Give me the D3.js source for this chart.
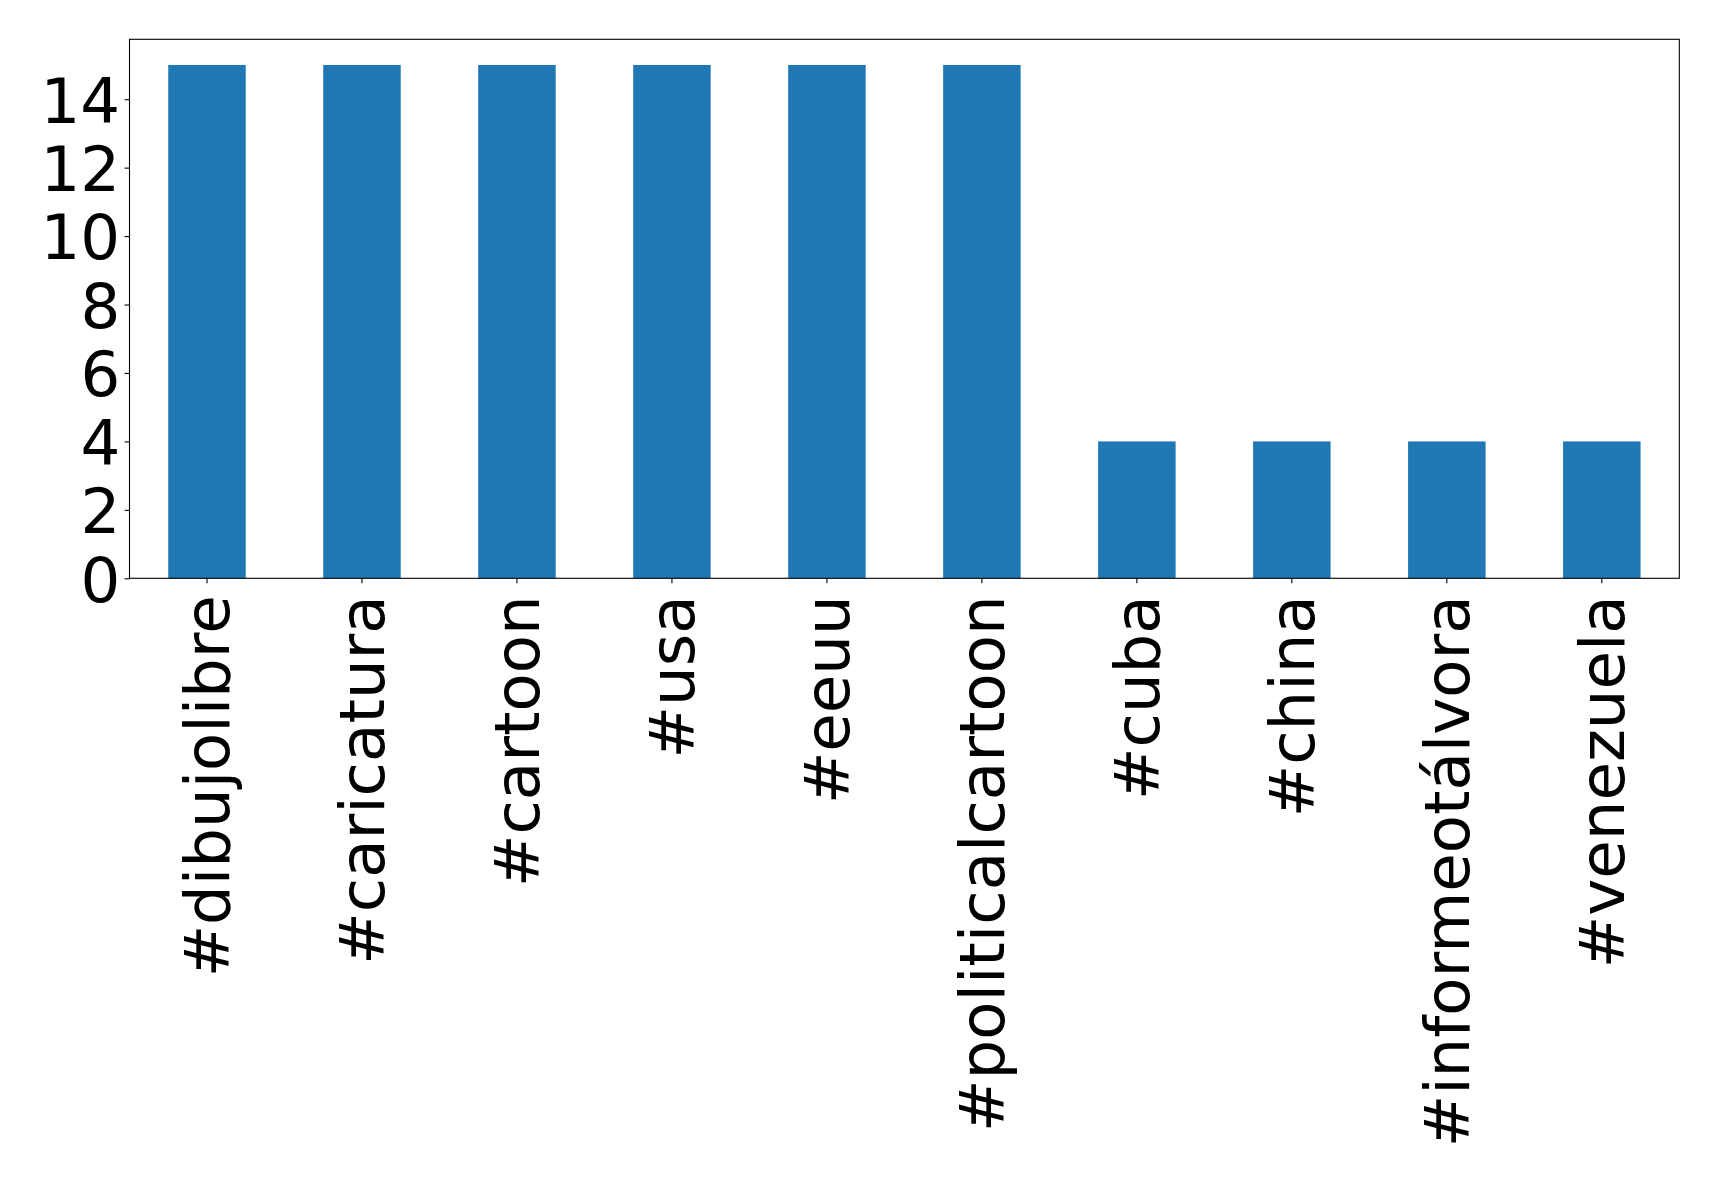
<!DOCTYPE html>
<html>
<head>
<meta charset="utf-8">
<script src="https://cdn.jsdelivr.net/npm/d3@7"></script>
<style>
  html, body { margin: 0; padding: 0; background: #fff; }
  svg { display: block; }
  text { font-family: "DejaVu Sans", sans-serif; fill: #000; }
</style>
</head>
<body>
<svg id="chart" width="1719" height="1179"></svg>
<script>
const categories = ["#dibujolibre", "#caricatura", "#cartoon", "#usa", "#eeuu", "#politicalcartoon", "#cuba", "#china", "#informeotálvora", "#venezuela"];
const counts = [15, 15, 15, 15, 15, 15, 4, 4, 4, 4];
const yTicks = [0, 2, 4, 6, 8, 10, 12, 14];

const plotLeft = 129.5, plotRight = 1679.3, plotTop = 39.3, plotBottom = 578.3;
const fontSize = 62.6;
const tickLen = 4.9, tickPad = 4.9;

const svg = d3.select("#chart");

const x = d3.scaleBand().domain(categories).range([plotLeft, plotRight]).paddingInner(0.5).paddingOuter(0.25);
const y = d3.scaleLinear().domain([0, d3.max(counts) * 1.05]).range([plotBottom, plotTop]);

// bars
svg.append("g").selectAll("rect").data(categories).join("rect")
  .attr("x", d => x(d))
  .attr("width", x.bandwidth())
  .attr("y", (d, i) => y(counts[i]))
  .attr("height", (d, i) => y(0) - y(counts[i]))
  .attr("fill", "#1f77b4");

// y axis
const yAxis = d3.axisLeft(y).tickValues(yTicks).tickSize(tickLen).tickPadding(tickPad).tickFormat(d3.format("d"));
const gy = svg.append("g").attr("transform", `translate(${plotLeft},0)`).call(yAxis);
gy.select(".domain").remove();
gy.selectAll(".tick line").attr("stroke", "#000").attr("stroke-width", 1.1);
gy.selectAll(".tick text")
  .attr("font-size", fontSize)
  .attr("font-family", "DejaVu Sans")
  .attr("dy", "0.365em")
  .attr("x", -(tickLen + tickPad) + 0.5);

// x axis
const xAxis = d3.axisBottom(x).tickSize(tickLen).tickPadding(tickPad);
const gx = svg.append("g").attr("transform", `translate(0,${plotBottom})`).call(xAxis);
gx.select(".domain").remove();
gx.selectAll(".tick line").attr("stroke", "#000").attr("stroke-width", 1.1);
gx.selectAll(".tick text")
  .attr("font-size", fontSize)
  .attr("font-family", "DejaVu Sans")
  .attr("text-anchor", "end")
  .attr("transform", "translate(0,17) rotate(-90)")
  .attr("x", 0)
  .attr("y", 0)
  .attr("dy", 22);

// frame
svg.append("rect")
  .attr("x", plotLeft).attr("y", plotTop)
  .attr("width", plotRight - plotLeft).attr("height", plotBottom - plotTop)
  .attr("fill", "none").attr("stroke", "#000").attr("stroke-width", 1.1);
</script>
</body>
</html>
